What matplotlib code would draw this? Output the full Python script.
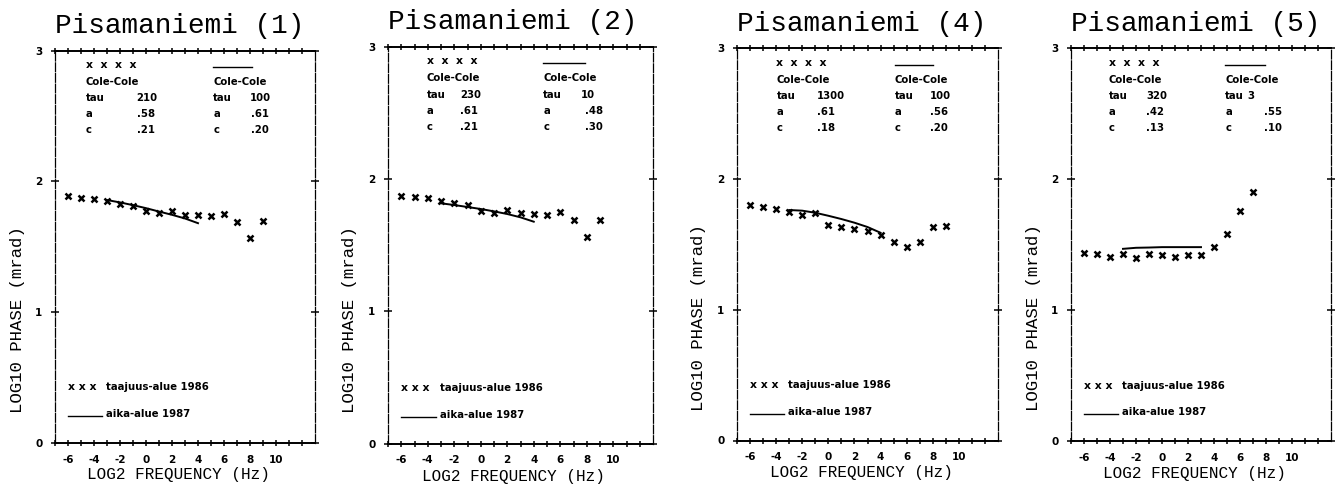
import numpy as np
import matplotlib
matplotlib.use("Agg")
import matplotlib.pyplot as plt

# Measured phase spectra (log10 mrad) against log2 frequency
titles = ["Pisamaniemi (1)", "Pisamaniemi (2)", "Pisamaniemi (4)", "Pisamaniemi (5)"]

freq_obs_1 = np.arange(-6, 10)
phase_obs_1 = [1.89, 1.875, 1.867, 1.849, 1.826, 1.808, 1.772, 1.759,
               1.772, 1.744, 1.746, 1.738, 1.754, 1.692, 1.565, 1.695]
freq_fit_1 = np.arange(-3, 5)
phase_fit_1 = [1.857, 1.839, 1.818, 1.795, 1.769, 1.744, 1.716, 1.680]

freq_obs_2 = np.arange(-6, 10)
phase_obs_2 = [1.873, 1.861, 1.853, 1.836, 1.821, 1.80, 1.76, 1.745,
               1.765, 1.74, 1.735, 1.73, 1.748, 1.69, 1.563, 1.69]
freq_fit_2 = np.arange(-3, 5)
phase_fit_2 = [1.816, 1.803, 1.788, 1.773, 1.755, 1.735, 1.71, 1.677]

freq_obs_4 = np.arange(-6, 10)
phase_obs_4 = [1.801, 1.788, 1.77, 1.75, 1.725, 1.737, 1.648, 1.635,
               1.617, 1.602, 1.571, 1.52, 1.482, 1.52, 1.63, 1.643]
freq_fit_4 = np.arange(-3, 5)
phase_fit_4 = [1.763, 1.758, 1.742, 1.719, 1.694, 1.666, 1.633, 1.589]

freq_obs_5 = np.arange(-6, 8)
phase_obs_5 = [1.437, 1.425, 1.407, 1.427, 1.40, 1.425, 1.42, 1.402,
               1.42, 1.42, 1.479, 1.578, 1.756, 1.90]
freq_fit_5 = np.arange(-3, 4)
phase_fit_5 = [1.468, 1.476, 1.478, 1.481, 1.481, 1.481, 1.481]

# Cole-Cole parameters: (tau, a, c) for the 1986 and 1987 surveys
params_obs = [("210", ".58", ".21"), ("230", ".61", ".21"),
              ("1300", ".61", ".18"), ("320", ".42", ".13")]
params_fit = [("100", ".61", ".20"), ("10", ".48", ".30"),
              ("100", ".56", ".20"), ("3", ".55", ".10")]

legend_obs = "taajuus-alue 1986"
legend_fit = "aika-alue 1987"
xlabel = "LOG2 FREQUENCY (Hz)"
ylabel = "LOG10 PHASE (mrad)"
xtick_values = [-6, -4, -2, 0, 2, 4, 6, 8, 10]
ytick_values = [0, 1, 2, 3]

obs_x = [freq_obs_1, freq_obs_2, freq_obs_4, freq_obs_5]
obs_y = [phase_obs_1, phase_obs_2, phase_obs_4, phase_obs_5]
fit_x = [freq_fit_1, freq_fit_2, freq_fit_4, freq_fit_5]
fit_y = [phase_fit_1, phase_fit_2, phase_fit_4, phase_fit_5]

W, H = 1336, 484
fig = plt.figure(figsize=(W / 100, H / 100), dpi=100)

# axes boxes in pixels: left, right, top, bottom
boxes = [(55, 315, 50.7, 442.7), (388, 653, 46.7, 443.5),
         (737, 998, 48.3, 440.5), (1071, 1331, 48.3, 441)]
# column positions of the parameter block (axes fraction)
col1 = [0.119, 0.146, 0.151, 0.145]
col1_val = [0.314, 0.272, 0.305, 0.29]
col2 = [0.609, 0.586, 0.605, 0.593]
col2_end = [0.757, 0.743, 0.752, 0.747]
col2_tau = [0.75, 0.727, 0.739, 0.677]
col2_val = [0.753, 0.743, 0.739, 0.743]

mono = "Liberation Mono"
small = dict(fontsize=7.3, fontweight="bold", family="DejaVu Sans")
marks = dict(fontsize=7.8, fontweight="bold", family="DejaVu Sans")
tick_font = dict(fontsize=7.5, fontweight="bold", family="DejaVu Sans")

tick_pos = np.arange(-7, 13)
tick_txt = [str(v) if v in xtick_values else "" for v in tick_pos]

for i in range(4):
    l, r, t, b = boxes[i]
    ax = fig.add_axes([l / W, 1 - b / H, (r - l) / W, (b - t) / H])
    ax.set_xlim(-7, 13)
    ax.set_ylim(0, 3)

    ax.plot(obs_x[i], obs_y[i], linestyle="none", marker="x", color="black",
            markersize=4.2, markeredgewidth=1.8)
    ax.plot(fit_x[i], fit_y[i], color="black", linewidth=1.4)

    # frame: solid top/bottom, broken sides
    for side in ("top", "bottom"):
        ax.spines[side].set_linewidth(1.4)
    for side in ("left", "right"):
        ax.spines[side].set_linewidth(0.9)
        ax.spines[side].set_linestyle((0, (7, 1.5)))

    ax.set_xticks(tick_pos)
    ax.set_xticklabels(tick_txt, **tick_font)
    ax.tick_params(axis="x", direction="inout", length=5, width=1.1,
                   top=True, bottom=True, pad=6)
    ax.set_yticks(ytick_values)
    ax.set_yticklabels([str(v) for v in ytick_values], **tick_font)
    ax.tick_params(axis="y", direction="inout", length=6, width=1.1,
                   left=True, right=True, pad=6)

    ax.text(0, 1.045, titles[i], transform=ax.transAxes, ha="left",
            va="baseline", fontsize=20, family=mono, color="black")
    ax.text(0.475, -0.082, xlabel, transform=ax.transAxes, ha="center",
            va="center", fontsize=11.5, family=mono)
    ax.text(-0.146, 0.313, ylabel, transform=ax.transAxes, ha="center",
            va="center", rotation=90, fontsize=12.5, family=mono)

    # parameter block
    rows = [0.963, 0.92, 0.879, 0.838, 0.798]
    ax.text(col1[i], rows[0], "x  x  x  x", transform=ax.transAxes,
            va="center", **marks)
    ax.plot([col2[i], col2_end[i]], [0.958, 0.958], transform=ax.transAxes,
            color="black", linewidth=1.0)
    for cx, cv_tau, cv, pars in ((col1[i], col1_val[i], col1_val[i], params_obs[i]),
                                 (col2[i], col2_tau[i], col2_val[i], params_fit[i])):
        ax.text(cx, rows[1], "Cole-Cole", transform=ax.transAxes, va="center", **small)
        for j, name in enumerate(("tau", "a", "c")):
            ax.text(cx, rows[2 + j], name, transform=ax.transAxes, va="center", **small)
            ax.text(cv_tau if j == 0 else cv, rows[2 + j], pars[j],
                    transform=ax.transAxes, va="center", **small)

    # legend at the bottom
    ax.text(0.049, 0.141, "x x x", transform=ax.transAxes, va="center", **marks)
    ax.text(0.196, 0.141, legend_obs, transform=ax.transAxes, va="center", **small)
    ax.plot([0.049, 0.18], [0.068, 0.068], transform=ax.transAxes,
            color="black", linewidth=1.0)
    ax.text(0.196, 0.073, legend_fit, transform=ax.transAxes, va="center", **small)

fig.savefig("out.png", dpi=100, facecolor="white")
